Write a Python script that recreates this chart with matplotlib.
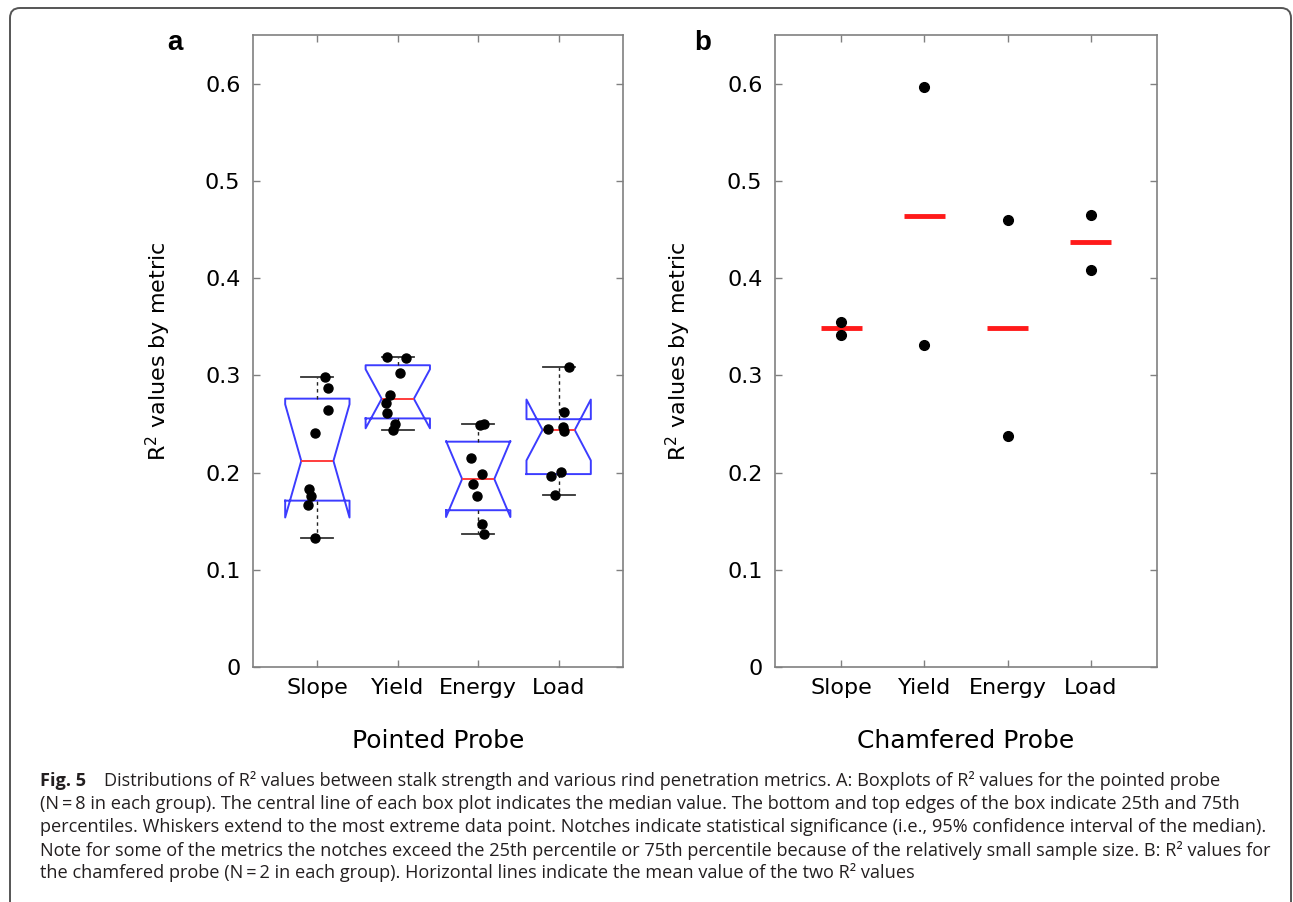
import matplotlib.pyplot as plt
import numpy as np
from matplotlib.patches import FancyBboxPatch

metrics = ['Slope', 'Yield', 'Energy', 'Load']
yticks = [0, 0.1, 0.2, 0.3, 0.4, 0.5, 0.6]
ytick_labels = ['0', '0.1', '0.2', '0.3', '0.4', '0.5', '0.6']

# panel a: pointed probe, R^2 per metric (N=8), with the x jitter of each dot
slope_r2 = [0.2986, 0.2873, 0.2647, 0.2408, 0.1831, 0.1755, 0.1667, 0.1328]
slope_jit = [0.09, 0.13, 0.13, -0.03, -0.11, -0.075, -0.12, -0.03]
yield_r2 = [0.3191, 0.3180, 0.3027, 0.2798, 0.2719, 0.2616, 0.2497, 0.2436]
yield_jit = [-0.14, 0.10, 0.03, -0.10, -0.15, -0.14, -0.03, -0.06]
energy_r2 = [0.2504, 0.2490, 0.2145, 0.1985, 0.1882, 0.1755, 0.1470, 0.1369]
energy_jit = [0.07, 0.02, -0.09, 0.05, -0.06, -0.02, 0.05, 0.07]
load_r2 = [0.3085, 0.2627, 0.2470, 0.2446, 0.2429, 0.2001, 0.1967, 0.1772]
load_jit = [0.13, 0.07, 0.05, -0.13, 0.07, 0.03, -0.10, -0.04]

# panel b: chamfered probe, two R^2 values per metric
chamfered_1 = [0.355, 0.597, 0.460, 0.465]
chamfered_2 = [0.3415, 0.331, 0.2375, 0.4085]

caption = [
    'Distributions of R\u00b2 values between stalk strength and various rind penetration metrics. A: Boxplots of R\u00b2 values for the pointed probe',
    '(N\u2009=\u20098 in each group). The central line of each box plot indicates the median value. The bottom and top edges of the box indicate 25th and 75th',
    'percentiles. Whiskers extend to the most extreme data point. Notches indicate statistical significance (i.e., 95% confidence interval of the median).',
    'Note for some of the metrics the notches exceed the 25th percentile or 75th percentile because of the relatively small sample size. B: R\u00b2 values for',
    'the chamfered probe (N\u2009=\u20092 in each group). Horizontal lines indicate the mean value of the two R\u00b2 values',
]


def box_stats(vals):
    # matlab style quartiles and notches
    v = np.asarray(vals)
    q1, med, q3 = np.percentile(v, [25, 50, 75], method='hazen')
    half = 1.57 * (q3 - q1) / np.sqrt(len(v))
    return dict(med=med, q1=q1, q3=q3, whislo=v.min(), whishi=v.max(),
                cilo=med - half, cihi=med + half, fliers=[])


def style_axes(ax, xlabel):
    for s in ax.spines.values():
        s.set_color('#808080')
        s.set_linewidth(1.2)
    ax.set_xlim(0.2, 4.8)
    ax.set_ylim(0, 0.65)
    ax.set_xticks([1, 2, 3, 4], metrics)
    ax.set_yticks(yticks, ytick_labels)
    ax.tick_params(direction='in', length=5, width=1, color='#808080',
                   top=True, right=True, labelsize=16, labelcolor='black')
    ax.tick_params(axis='y', pad=9)
    ax.tick_params(axis='x', pad=8)
    ax.set_ylabel('R$^2$ values by metric', fontsize=16)
    ax.yaxis.set_label_coords(-0.215, 0.5)
    ax.set_xlabel(xlabel, fontsize=18)
    ax.xaxis.set_label_coords(0.5, -0.098)


fig = plt.figure(figsize=(12.93, 9.02), dpi=100)
ax1 = fig.add_axes([253 / 1293, 1 - 667 / 902, 370 / 1293, 632 / 902])
ax2 = fig.add_axes([775 / 1293, 1 - 667 / 902, 382 / 1293, 632 / 902])

pos = np.arange(1, 5)
groups = [slope_r2, yield_r2, energy_r2, load_r2]
jitters = [slope_jit, yield_jit, energy_jit, load_jit]

ax1.bxp([box_stats(g) for g in groups], positions=pos, widths=0.8, capwidths=0.4,
        shownotches=True, manage_ticks=False,
        boxprops=dict(color='#3c3cff', lw=1.4),
        medianprops=dict(color='#ff3c3c', lw=1.4),
        whiskerprops=dict(color='#222222', lw=1.0, ls=(0, (2.5, 2.5))),
        capprops=dict(color='#333333', lw=1.3))
for p, g, j in zip(pos, groups, jitters):
    ax1.plot(p + np.array(j), g, 'o', color='black', ms=6.5, zorder=5)
style_axes(ax1, 'Pointed Probe')

means = (np.array(chamfered_1) + np.array(chamfered_2)) / 2
ax2.plot(pos, chamfered_1, 'o', color='black', ms=7, zorder=5)
ax2.plot(pos, chamfered_2, 'o', color='black', ms=7, zorder=5)
ax2.hlines(means, pos - 0.25, pos + 0.25, color='#ff1a1a', lw=3.5, zorder=4)
style_axes(ax2, 'Chamfered Probe')

fig.text(175 / 1293, 1 - 43 / 902, 'a', fontsize=20, fontweight='bold',
         family='Liberation Sans', ha='center', va='center')
fig.text(703 / 1293, 1 - 43 / 902, 'b', fontsize=20, fontweight='bold',
         family='Liberation Sans', ha='center', va='center')

# caption under the panels
cap_font = ['Open Sans', 'DejaVu Sans']
cap_size = 13.1
line_y = [781, 804, 827, 850, 873]
fig.text(40 / 1293, 1 - line_y[0] / 902, 'Fig. 5', fontsize=cap_size, fontweight='bold',
         family=cap_font, va='center', color='#231f20')
for i, (y, line) in enumerate(zip(line_y, caption)):
    x = 104 if i == 0 else 40
    fig.text(x / 1293, 1 - y / 902, line, fontsize=cap_size, family=cap_font,
             va='center', color='#231f20')

# rounded frame around the figure
frame = FancyBboxPatch((0.10, -0.2), 12.81, 9.14, boxstyle='round,pad=0,rounding_size=0.1',
                       transform=fig.dpi_scale_trans, fill=False, ec='#555555', lw=1.4)
fig.add_artist(frame)

fig.savefig('out.png', dpi=100)
